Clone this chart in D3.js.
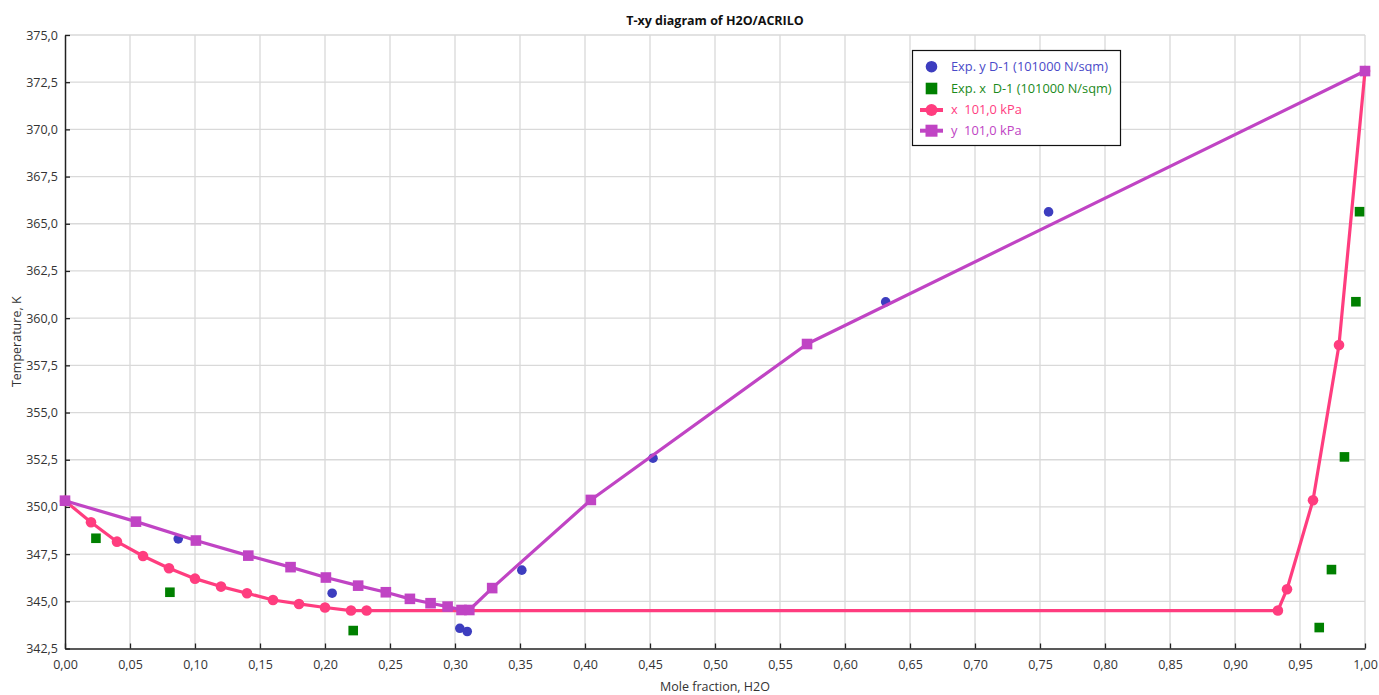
<!DOCTYPE html>
<html>
<head>
<meta charset="utf-8">
<script src="https://cdn.jsdelivr.net/npm/d3@7"></script>
<style>
  html, body { margin: 0; padding: 0; background: #fff; }
  svg { display: block; font-family: "Open Sans", "Noto Sans", sans-serif; }
  svg text { white-space: pre; }
</style>
</head>
<body>
<svg id="chart" width="1379" height="695"></svg>
<script>
// Liquid line (x), 101,0 kPa
const liqX = [0, 0.02, 0.04, 0.06, 0.08, 0.10, 0.12, 0.14, 0.16, 0.18, 0.20, 0.22, 0.232, 0.933, 0.940, 0.960, 0.980, 1.0];
const liqT = [350.32, 349.19, 348.16, 347.40, 346.75, 346.20, 345.78, 345.43, 345.07, 344.86, 344.67, 344.51, 344.51, 344.51, 345.64, 350.35, 358.58, 373.09];

// Vapour line (y), 101,0 kPa
const vapX = [0, 0.0546, 0.1007, 0.141, 0.1735, 0.2007, 0.2255, 0.2468, 0.2653, 0.2812, 0.2943, 0.305, 0.311, 0.3286, 0.4045, 0.5708, 1.0];
const vapT = [350.33, 349.22, 348.22, 347.42, 346.81, 346.26, 345.83, 345.48, 345.13, 344.90, 344.72, 344.54, 344.54, 345.70, 350.37, 358.63, 373.09];

// Experimental vapour composition, D-1 (101000 N/sqm)
const expYX = [0.0871, 0.2055, 0.3037, 0.3094, 0.3514, 0.4523, 0.6313, 0.7566];
const expYT = [348.31, 345.43, 343.57, 343.40, 346.65, 352.58, 360.86, 365.63];

// Experimental liquid composition, D-1 (101000 N/sqm)
const expXX = [0.0238, 0.0807, 0.2217, 0.9648, 0.9742, 0.9842, 0.9930, 0.9958];
const expXT = [348.34, 345.48, 343.45, 343.61, 346.68, 352.65, 360.87, 365.64];

const xTicks = d3.range(0, 21).map(i => i * 0.05);
const yTicks = d3.range(0, 14).map(i => 342.5 + i * 2.5);

const chartTitle = "T-xy diagram of H2O/ACRILO";
const xTitle = "Mole fraction, H2O";
const yTitle = "Temperature, K";
const legendItems = [
  { label: "Exp. y D-1 (101000 N/sqm)", kind: "circle", color: "#3d3dbf", text: "#4a4ac8" },
  { label: "Exp. x  D-1 (101000 N/sqm)", kind: "square", color: "#008000", text: "#1b8a1b" },
  { label: "x  101,0 kPa", kind: "lineCircle", color: "#ff3d7f", text: "#ff3d7f" },
  { label: "y  101,0 kPa", kind: "lineSquare", color: "#c044c4", text: "#c044c4" }
];

const svg = d3.select("#chart");
const plotL = 65, plotR = 1365, plotT = 35, plotB = 648.5;

const x = d3.scaleLinear().domain([0, 1]).range([plotL, plotR]);
const y = d3.scaleLinear().domain([342.5, 375]).range([plotB, plotT]);
const fmtX = v => d3.format(".2f")(v).replace(".", ",");
const fmtY = v => d3.format(".1f")(v).replace(".", ",");

// grid
const grid = svg.append("g").attr("stroke", "#d9d9d9").attr("stroke-width", 1.3);
grid.selectAll("line.v").data(xTicks.slice(1)).join("line")
  .attr("x1", d => x(d)).attr("x2", d => x(d)).attr("y1", plotT).attr("y2", plotB);
grid.selectAll("line.h").data(yTicks.slice(1)).join("line")
  .attr("x1", plotL).attr("x2", plotR).attr("y1", d => y(d)).attr("y2", d => y(d));

// axes with inward ticks
const xAxis = svg.append("g").attr("transform", `translate(0,${plotB})`)
  .call(d3.axisBottom(x).tickValues(xTicks).tickFormat(fmtX).tickSizeInner(-5).tickSizeOuter(0).tickPadding(12));
const yAxis = svg.append("g").attr("transform", `translate(${plotL},0)`)
  .call(d3.axisLeft(y).tickValues(yTicks).tickFormat(fmtY).tickSizeInner(-5).tickSizeOuter(0).tickPadding(7));
[xAxis, yAxis].forEach(a => {
  a.select(".domain").attr("stroke", "#222").attr("stroke-width", 1.5);
  a.selectAll(".tick line").attr("stroke", "#222").attr("stroke-width", 1.3);
  a.selectAll(".tick text").attr("fill", "#333").attr("font-size", 12.5).attr("font-family", "'Open Sans', sans-serif");
});

// experimental points
svg.append("g").selectAll("circle").data(d3.zip(expYX, expYT)).join("circle")
  .attr("cx", d => x(d[0])).attr("cy", d => y(d[1])).attr("r", 4.8).attr("fill", "#3d3dbf");
svg.append("g").selectAll("rect").data(d3.zip(expXX, expXT)).join("rect")
  .attr("x", d => x(d[0]) - 4.8).attr("y", d => y(d[1]) - 4.8).attr("width", 9.6).attr("height", 9.6)
  .attr("fill", "#008000");

const line = d3.line().x(d => x(d[0])).y(d => y(d[1]));

// liquid curve
const liq = d3.zip(liqX, liqT);
svg.append("path").datum(liq).attr("d", line).attr("fill", "none")
  .attr("stroke", "#ff3d7f").attr("stroke-width", 3.2).attr("stroke-linejoin", "round");
svg.append("g").selectAll("circle").data(liq).join("circle")
  .attr("cx", d => x(d[0])).attr("cy", d => y(d[1])).attr("r", 5.3).attr("fill", "#ff3d7f");

// vapour curve
const vap = d3.zip(vapX, vapT);
svg.append("path").datum(vap).attr("d", line).attr("fill", "none")
  .attr("stroke", "#c044c4").attr("stroke-width", 3.2).attr("stroke-linejoin", "round");
svg.append("g").selectAll("rect").data(vap).join("rect")
  .attr("x", d => x(d[0]) - 5.3).attr("y", d => y(d[1]) - 5.3).attr("width", 10.6).attr("height", 10.6)
  .attr("fill", "#c044c4");

// titles
svg.append("text").attr("x", (plotL + plotR) / 2).attr("y", 25).attr("text-anchor", "middle")
  .attr("font-size", 12.5).attr("font-weight", "bold").attr("fill", "#111").text(chartTitle);
svg.append("text").attr("x", (plotL + plotR) / 2).attr("y", 691).attr("text-anchor", "middle")
  .attr("font-size", 12.5).attr("fill", "#333").text(xTitle);
svg.append("text").attr("transform", `translate(21,${(plotT + plotB) / 2}) rotate(-90)`)
  .attr("text-anchor", "middle").attr("font-size", 12.5).attr("fill", "#333").text(yTitle);

// legend
const lg = svg.append("g");
lg.append("rect").attr("x", 912.5).attr("y", 50.5).attr("width", 208).attr("height", 95)
  .attr("fill", "#fff").attr("stroke", "#111").attr("stroke-width", 1.2);
const rowY = [66.7, 88.5, 110, 130.7];
legendItems.forEach((it, i) => {
  const cy = rowY[i], cx = 931.5;
  if (it.kind === "circle") {
    lg.append("circle").attr("cx", cx).attr("cy", cy).attr("r", 5.8).attr("fill", it.color);
  } else if (it.kind === "square") {
    lg.append("rect").attr("x", cx - 5.8).attr("y", cy - 5.8).attr("width", 11.6).attr("height", 11.6).attr("fill", it.color);
  } else {
    lg.append("line").attr("x1", 920).attr("x2", 943).attr("y1", cy).attr("y2", cy)
      .attr("stroke", it.color).attr("stroke-width", 4);
    if (it.kind === "lineCircle") {
      lg.append("circle").attr("cx", cx).attr("cy", cy).attr("r", 6).attr("fill", it.color);
    } else {
      lg.append("rect").attr("x", cx - 6).attr("y", cy - 6).attr("width", 12).attr("height", 12).attr("fill", it.color);
    }
  }
  lg.append("text").attr("x", 951).attr("y", cy).attr("dy", "0.35em")
    .attr("font-size", 12.8).attr("fill", it.text).text(it.label);
});
</script>
</body>
</html>
